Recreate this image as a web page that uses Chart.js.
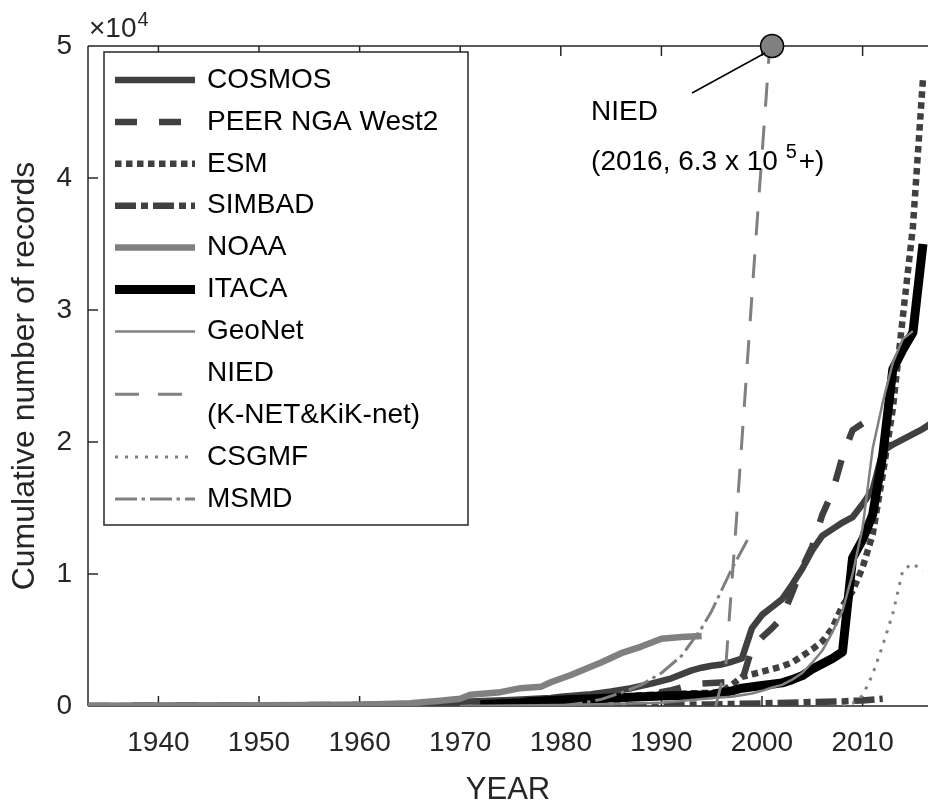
<!DOCTYPE html>
<html><head><meta charset="utf-8">
<script src="https://cdn.jsdelivr.net/npm/chart.js@4.4.0/dist/chart.umd.min.js"></script>
<style>html,body{margin:0;padding:0;background:#fff;overflow:hidden}canvas{display:block}</style>
</head><body>
<canvas id="c" width="928" height="803"></canvas>
<script>
// ---------------- data ----------------
const xTicks = [1940, 1950, 1960, 1970, 1980, 1990, 2000, 2010];
const yTicks = [0, 10000, 20000, 30000, 40000, 50000];
const seriesNames = ['COSMOS', 'PEER NGA West2', 'ESM', 'SIMBAD', 'NOAA', 'ITACA', 'GeoNet',
  ['NIED', '(K-NET&KiK-net)'], 'CSGMF', 'MSMD'];

const cosmosYears = [1933, 1940, 1950, 1960, 1965, 1970, 1971, 1975, 1979, 1980, 1983, 1985, 1987, 1989, 1991, 1993, 1994, 1995, 1996, 1997, 1998, 1999, 2000, 2001, 2002, 2003, 2004, 2005, 2006, 2007, 2008, 2009, 2010, 2011, 2012, 2013, 2014, 2015, 2016, 2017];
const cosmosValues = [0, 10, 40, 80, 120, 200, 350, 450, 600, 700, 900, 1100, 1350, 1700, 2100, 2700, 2900, 3050, 3150, 3350, 3600, 5900, 6900, 7500, 8100, 9200, 10400, 11800, 12900, 13400, 13900, 14300, 15300, 16400, 19300, 19800, 20200, 20600, 21000, 21500];

const peerYears = [1933, 1940, 1952, 1960, 1971, 1979, 1980, 1983, 1985, 1987, 1989, 1991, 1992, 1994, 1995, 1996, 1997, 1998, 1999, 2000, 2001, 2002, 2003, 2004, 2005, 2006, 2007, 2008, 2009, 2010, 2011];
const peerValues = [0, 20, 60, 80, 150, 300, 350, 420, 500, 680, 900, 1200, 1400, 1700, 1750, 1780, 1820, 1850, 4400, 5200, 5900, 6700, 8600, 10500, 12100, 14500, 16200, 18900, 20900, 21400, 21600];

const esmYears = [1970, 1976, 1980, 1985, 1990, 1995, 1996, 1997, 1998, 1999, 2000, 2001, 2002, 2003, 2004, 2005, 2006, 2007, 2008, 2009, 2010, 2011, 2012, 2013, 2014, 2015, 2016];
const esmValues = [0, 300, 450, 650, 900, 1000, 1100, 1600, 2200, 2400, 2600, 2800, 3000, 3300, 3800, 4300, 4900, 5900, 7600, 8700, 10500, 13000, 17500, 22500, 29500, 36300, 47500];

const simbadYears = [1960, 1970, 1980, 1990, 1995, 2000, 2005, 2008, 2010, 2012];
const simbadValues = [0, 10, 30, 70, 120, 200, 300, 350, 420, 550];

const noaaYears = [1933, 1940, 1950, 1960, 1965, 1968, 1970, 1971, 1974, 1976, 1978, 1979, 1981, 1984, 1986, 1988, 1990, 1992, 1994];
const noaaValues = [0, 20, 50, 100, 200, 400, 550, 850, 1050, 1350, 1450, 1800, 2350, 3300, 4000, 4500, 5100, 5230, 5300];

const itacaYears = [1972, 1976, 1977, 1980, 1985, 1990, 1995, 1997, 1998, 2000, 2002, 2003, 2004, 2005, 2006, 2007, 2008, 2009, 2010, 2011, 2012, 2013, 2014, 2015, 2016];
const itacaValues = [100, 250, 350, 450, 600, 750, 850, 1150, 1350, 1550, 1750, 2000, 2300, 2800, 3200, 3600, 4100, 11200, 12600, 14500, 19000, 25500, 27000, 28300, 35000];

const geonetYears = [1970, 1975, 1980, 1985, 1990, 1993, 1995, 1997, 1999, 2000, 2001, 2002, 2003, 2004, 2005, 2006, 2007, 2008, 2009, 2010, 2011, 2012, 2013, 2014, 2015];
const geonetValues = [0, 30, 80, 150, 250, 450, 600, 700, 950, 1150, 1400, 1600, 2000, 2500, 3300, 4200, 5600, 7200, 10000, 13500, 19500, 23000, 26000, 27800, 28400];

const niedYears = [1995.4, 1996.4, 1997.4, 1998.4, 1999.4, 2000.4, 2001.4];
const niedValues = [0, 3000, 13500, 24500, 35500, 46000, 57000];

const csgmfYears = [2008, 2009, 2010, 2011, 2012, 2013, 2014, 2015, 2016];
const csgmfValues = [0, 200, 800, 2400, 4600, 7000, 10300, 10800, 10200];

const msmdYears = [1980, 1982, 1984, 1986, 1988, 1990, 1992, 1994, 1995, 1996, 1997, 1998, 1998.7];
const msmdValues = [0, 200, 500, 1000, 1600, 2500, 3800, 5900, 7200, 8800, 10400, 11800, 12800];

const niedMarkerYear = 2001;
const niedMarkerValue = 50000;
const niedNoteLines = ['NIED', '(2016, 6.3 x 10 ', '5', '+)'];

// ---------------- styles ----------------
const DARK = '#404040', GREY = '#808080', AXIS = '#262626';
const FONT = "'Liberation Sans', Arial, Helvetica, sans-serif";
const styles = [
  {color: DARK, width: 6.5, dash: []},
  {color: DARK, width: 6.5, dash: [22, 22]},
  {color: DARK, width: 6.5, dash: [6.5, 4.5]},
  {color: DARK, width: 6.5, dash: [21, 5, 7, 5]},
  {color: GREY, width: 6.5, dash: []},
  {color: '#000000', width: 9, dash: []},
  {color: GREY, width: 2.5, dash: []},
  {color: GREY, width: 3, dash: [24, 19]},
  {color: GREY, width: 3, dash: [3, 7]},
  {color: GREY, width: 3, dash: [22, 4.5, 3.5, 5]}
];

const seriesData = [
  [cosmosYears, cosmosValues], [peerYears, peerValues], [esmYears, esmValues],
  [simbadYears, simbadValues], [noaaYears, noaaValues], [itacaYears, itacaValues],
  [geonetYears, geonetValues], [niedYears, niedValues], [csgmfYears, csgmfValues],
  [msmdYears, msmdValues]
];
const pts = (xs, ys) => xs.map((x, i) => ({x: x, y: ys[i]}));

const datasets = seriesData.map((s, i) => ({
  label: Array.isArray(seriesNames[i]) ? seriesNames[i].join(' ') : seriesNames[i],
  data: pts(s[0], s[1]),
  borderColor: styles[i].color,
  borderWidth: styles[i].width,
  borderDash: styles[i].dash,
  borderCapStyle: 'butt',
  borderJoinStyle: 'round',
  pointRadius: 0,
  fill: false,
  tension: 0,
  order: 20 - i
}));
datasets.push({
  label: 'NIED marker',
  data: [{x: niedMarkerYear, y: niedMarkerValue}],
  showLine: false,
  pointRadius: 11.5,
  pointBackgroundColor: GREY,
  pointBorderColor: '#000000',
  pointBorderWidth: 1.5,
  clip: false,
  order: 0
});

// ---------------- plugins ----------------
const axesPlugin = {
  id: 'matlabAxes',
  beforeDatasetsDraw(chart) {
    const {ctx, chartArea: a, scales: {x, y}} = chart;
    ctx.save();
    ctx.strokeStyle = AXIS;
    ctx.lineWidth = 1.5;
    ctx.beginPath();
    ctx.moveTo(a.left, a.top); ctx.lineTo(a.right + 2, a.top);
    ctx.moveTo(a.left, a.top); ctx.lineTo(a.left, a.bottom);
    ctx.moveTo(a.left, a.bottom); ctx.lineTo(a.right + 2, a.bottom);
    xTicks.forEach(v => {
      const px = x.getPixelForValue(v);
      ctx.moveTo(px, a.bottom); ctx.lineTo(px, a.bottom - 10);
      ctx.moveTo(px, a.top); ctx.lineTo(px, a.top + 10);
    });
    yTicks.forEach(v => {
      const py = y.getPixelForValue(v);
      ctx.moveTo(a.left, py); ctx.lineTo(a.left + 10, py);
    });
    ctx.stroke();
    ctx.restore();
  },
  afterDraw(chart) {
    const {ctx, chartArea: a, scales: {x, y}} = chart;
    ctx.save();
    // exponent label
    ctx.fillStyle = AXIS;
    ctx.textBaseline = 'alphabetic';
    ctx.font = `28px ${FONT}`;
    const ex = a.left + 1, ey = a.top - 9;
    ctx.fillText('\u00d710', ex, ey);
    const w10 = ctx.measureText('\u00d710').width;
    ctx.font = `20px ${FONT}`;
    ctx.fillText('4', ex + w10 + 1, ey - 11);

    // annotation
    const cx = x.getPixelForValue(niedMarkerYear), cy = y.getPixelForValue(niedMarkerValue);
    ctx.strokeStyle = '#000';
    ctx.lineWidth = 1.5;
    ctx.beginPath();
    ctx.moveTo(cx - 7, cy + 7);
    ctx.lineTo(cx - 80, cy + 47);
    ctx.stroke();
    ctx.fillStyle = '#000';
    ctx.font = `28px ${FONT}`;
    const tx = cx - 181;
    ctx.fillText(niedNoteLines[0], tx, cy + 74);
    ctx.fillText(niedNoteLines[1], tx, cy + 124);
    let w = ctx.measureText(niedNoteLines[1]).width;
    ctx.font = `20px ${FONT}`;
    ctx.fillText(niedNoteLines[2], tx + w, cy + 112);
    const w5 = ctx.measureText(niedNoteLines[2]).width;
    ctx.font = `28px ${FONT}`;
    ctx.fillText(niedNoteLines[3], tx + w + w5 + 2, cy + 124);

    // legend
    const lx = a.left + 16, ly = a.top + 6, lw = 364, lh = 473;
    ctx.fillStyle = '#fff';
    ctx.fillRect(lx, ly, lw, lh);
    ctx.strokeStyle = AXIS;
    ctx.lineWidth = 1.5;
    ctx.strokeRect(lx, ly, lw, lh);
    const row0 = a.top + 34, rowH = 41.9;
    let row = 0;
    ctx.textBaseline = 'middle';
    ctx.font = `28px ${FONT}`;
    seriesNames.forEach((name, i) => {
      const lines = Array.isArray(name) ? name : [name];
      const yMid = row0 + rowH * (row + (lines.length - 1) / 2);
      const st = styles[i];
      ctx.save();
      ctx.strokeStyle = st.color;
      ctx.lineWidth = st.width;
      ctx.setLineDash(st.dash);
      ctx.lineCap = 'butt';
      ctx.beginPath();
      ctx.moveTo(a.left + 27, yMid);
      ctx.lineTo(a.left + 107, yMid);
      ctx.stroke();
      ctx.restore();
      ctx.fillStyle = '#000';
      lines.forEach((t, k) => ctx.fillText(t, a.left + 119, row0 + rowH * (row + k)));
      row += lines.length;
    });
    ctx.restore();
  }
};

Chart.defaults.font.family = FONT;

new Chart(document.getElementById('c'), {
  type: 'line',
  data: {datasets},
  options: {
    responsive: false,
    animation: false,
    devicePixelRatio: 1,
    layout: {autoPadding: false, padding: {top: 46, left: 0, right: 0, bottom: 0}},
    plugins: {legend: {display: false}, tooltip: {enabled: false}},
    scales: {
      x: {
        type: 'linear', min: 1933, max: 2016.5,
        afterBuildTicks: s => { s.ticks = xTicks.map(v => ({value: v})); },
        afterFit: s => { s.height = 97; s.paddingLeft = 0; s.paddingRight = 0; },
        grid: {display: false, drawTicks: false},
        border: {display: false},
        ticks: {color: AXIS, font: {size: 28}, padding: 20, maxRotation: 0, autoSkip: false,
                callback: v => String(v)},
        title: {display: true, text: 'YEAR', color: AXIS, font: {size: 31, lineHeight: 0.8}, padding: 0}
      },
      y: {
        type: 'linear', min: 0, max: 50000,
        afterBuildTicks: s => { s.ticks = yTicks.map(v => ({value: v})); },
        afterFit: s => { s.width = 88; s.paddingTop = 0; s.paddingBottom = 0; },
        grid: {display: false, drawTicks: false},
        border: {display: false},
        ticks: {color: AXIS, font: {size: 28}, padding: 16, callback: v => String(v / 10000)},
        title: {display: true, text: 'Cumulative number of records', color: AXIS,
                font: {size: 32, lineHeight: 1}, padding: {top: 9, bottom: 0}}
      }
    }
  },
  plugins: [axesPlugin]
});
</script>
</body></html>
